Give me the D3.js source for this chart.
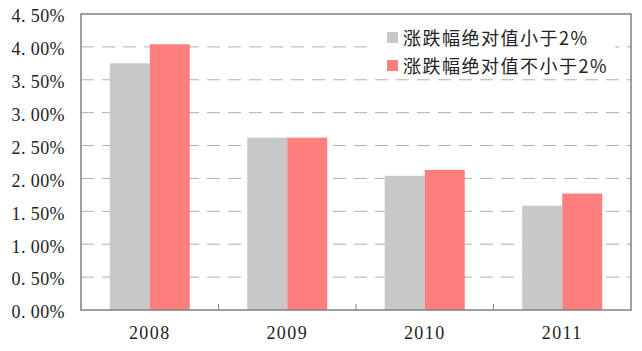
<!DOCTYPE html>
<meta charset="utf-8">
<script src="https://d3js.org/d3.v7.min.js"></script>
<style>
  body{margin:0;background:#fff;}
</style>
<div id="chart"></div>
<script>
    const years=["2008","2009","2010","2011"];
    const seriesNames=["涨跌幅绝对值小于2%","涨跌幅绝对值不小于2%"];
    const below2=[3.75,2.62,2.04,1.585];
    const above2=[4.04,2.62,2.13,1.77];
    const yTicks=[0,0.5,1,1.5,2,2.5,3,3.5,4,4.5];
    const colors=["#c8c8c8","#ff7f7f"];

    const W=642,H=351;
    const margin={top:14,right:11,bottom:41,left:81},
        width=W-margin.left-margin.right,
        height=H-margin.top-margin.bottom;

    const svg=d3.select("#chart")
        .append("svg")
            .attr("width",W)
            .attr("height",H)
        .append("g")
            .attr("transform",`translate(${margin.left},${margin.top})`);

    const x=d3.scaleBand()
        .domain(years)
        .range([0,width]);
    const barW=40;
    const x1=d3.scaleBand()
        .domain([0,1])
        .range([0,barW*2]);

    const y=d3.scaleLinear()
        .domain([0,4.5])
        .range([height,0]);

    // dashed grid
    svg.append("g")
        .selectAll("line")
        .data(yTicks.filter(d=>d>0&&d<4.5))
        .join("line")
            .attr("x1",0)
            .attr("x2",width)
            .attr("y1",d=>y(d))
            .attr("y2",d=>y(d))
            .attr("stroke","#b0b0b0")
            .attr("stroke-width",1)
            .attr("stroke-dasharray","13,8");

    // bars
    const data=years.map((yr,i)=>({year:yr,vals:[below2[i],above2[i]]}));
    svg.append("g")
        .selectAll("g")
        .data(data)
        .join("g")
            .attr("transform",d=>`translate(${x(d.year)+x.bandwidth()/2-barW},0)`)
        .selectAll("rect")
        .data(d=>d.vals.map((v,k)=>({k,v})))
        .join("rect")
            .attr("x",d=>x1(d.k))
            .attr("y",d=>y(d.v))
            .attr("width",x1.bandwidth())
            .attr("height",d=>height-y(d.v))
            .attr("fill",d=>colors[d.k]);

    // frame
    svg.append("rect")
        .attr("x",0).attr("y",0)
        .attr("width",width).attr("height",height)
        .attr("fill","none")
        .attr("stroke","#808080")
        .attr("stroke-width",1.5);

    // category ticks
    svg.append("g")
        .selectAll("line")
        .data(years.slice(1))
        .join("line")
            .attr("x1",d=>x(d)).attr("x2",d=>x(d))
            .attr("y1",height).attr("y2",height-6)
            .attr("stroke","#808080");

    // y labels
    svg.append("g")
        .selectAll("text")
        .data(yTicks)
        .join("text")
            .attr("x",-16)
            .attr("y",d=>y(d)+2)
            .attr("dy","0.35em")
            .attr("text-anchor","end")
            .style("font-family","'Liberation Serif'")
            .style("font-size","18px")
            .style("letter-spacing","0.4px")
            .attr("fill","#222")
            .text(d=>d3.format(".2f")(d).replace(".",". ")+"%");

    // x labels
    svg.append("g")
        .selectAll("text")
        .data(years)
        .join("text")
            .attr("x",d=>x(d)+x.bandwidth()/2)
            .attr("y",height+29)
            .attr("text-anchor","middle")
            .style("font-family","'Liberation Serif'")
            .style("font-size","18px")
            .style("letter-spacing","1.4px")
            .attr("fill","#222")
            .text(d=>d);

    // legend
    const lg=svg.append("g").attr("transform",`translate(${375-margin.left},${20-margin.top})`);
    lg.append("rect")
        .attr("x",0).attr("y",0)
        .attr("width",240).attr("height",56)
        .attr("fill","#fff");
    seriesNames.forEach((name,i)=>{
        lg.append("rect")
            .attr("x",12).attr("y",12+i*28)
            .attr("width",11).attr("height",11)
            .attr("fill",colors[i]);
        lg.append("text")
            .attr("x",28).attr("y",25+i*28)
            .style("font-family","'Noto Sans CJK SC'")
            .style("font-size","18px")
            .style("letter-spacing","1.5px")
            .attr("fill","#222")
            .text(name);
    });
</script>
